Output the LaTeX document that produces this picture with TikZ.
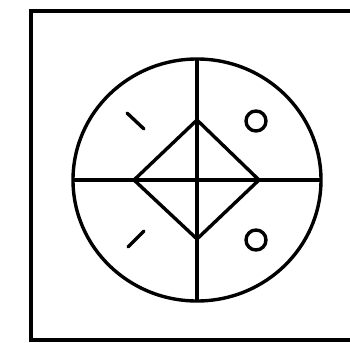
\documentclass[tikz,border=0pt]{standalone}
\usetikzlibrary{calc}
\tikzset{
  figline/.style = {draw=black, line width=3.4pt, line join=miter},
}
\begin{document}
\begin{tikzpicture}[x=1pt, y=-1pt]
  \useasboundingbox (0,0) rectangle (350,342);
  % frame
  \draw[figline] (31,11) rectangle (360,340);
  % circle and cross
  \coordinate (c) at (197,180);
  \draw[figline] (c) ellipse [x radius=124, y radius=121];
  \draw[figline] (197,59) -- (197,301);
  \draw[figline] (73,180) -- (321,180);
  % diamond
  \coordinate (dt) at (197,120);
  \coordinate (dr) at (259,180);
  \coordinate (db) at (197,239);
  \coordinate (dl) at (134,180);
  \draw[figline] (dt) -- (dr) -- (db) -- (dl) -- cycle;
  % marks in the quarters
  \draw[figline, line cap=round] (127,113) -- (144,129);
  \draw[figline, line cap=round] (128,247) -- (144,231);
  \draw[figline] (256,121) circle [radius=10];
  \draw[figline] (256,240) circle [radius=10];
\end{tikzpicture}
\end{document}
